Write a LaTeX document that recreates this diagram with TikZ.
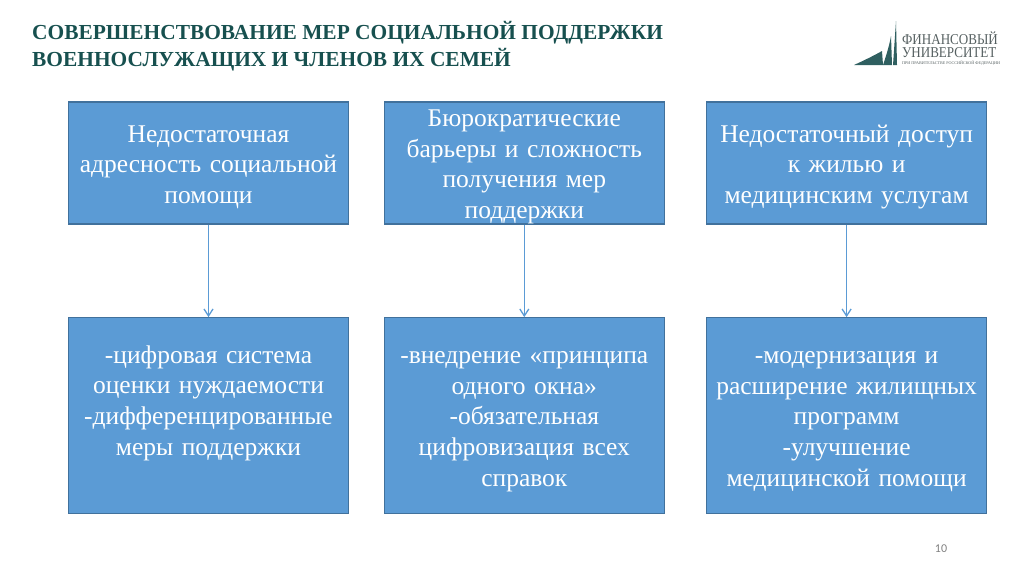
\documentclass[tikz,border=0pt]{standalone}
\usepackage{fontspec}
\setmainfont{Liberation Serif}
\newfontfamily\pagefont{Carlito}
\usetikzlibrary{arrows.meta, positioning}
\definecolor{boxFill}{HTML}{5B9BD5}
\definecolor{boxBorder}{HTML}{41719C}
\definecolor{titleText}{HTML}{17504F}
\definecolor{logoFill}{HTML}{2F5F60}
\definecolor{logoText}{HTML}{555F60}

\begin{document}
\begin{tikzpicture}[
  x=1pt, y=-1pt,
  node distance=92.5pt and 34.5pt,
  box/.style={rectangle, draw=boxBorder, line width=1.3pt, fill=boxFill, text=white, inner sep=0pt, minimum width=280pt, text width=276pt, align=center, font=\fontsize{25.5}{30.7}\selectfont, execute at end node={\endgraf\vspace*{-8pt}}},
  upper/.style={box, minimum height=122pt},
  lower/.style={box, minimum height=195.5pt, execute at end node={\vspace*{-4pt}}},
  arrow/.style={-{Straight Barb[length=7pt, width=9pt]}, draw=boxFill, line width=1.3pt},
  heading/.style={anchor=west, inner sep=0pt, text=titleText, font=\fontsize{21.4}{27}\selectfont\bfseries},
  logotext/.style={anchor=west, inner sep=0pt, text=logoText}
]
  \useasboundingbox (0,0) rectangle (1024,574);
  % Title
  \node (titleA) [heading] at (32,33) {СОВЕРШЕНСТВОВАНИЕ МЕР СОЦИАЛЬНОЙ ПОДДЕРЖКИ};
  \node (titleB) [heading] at (32,60) {ВОЕННОСЛУЖАЩИХ И ЧЛЕНОВ ИХ СЕМЕЙ};

  % Logo
  \fill [logoFill] (854,65) .. controls (865,60) and (875,55) .. (882,51) -- (883,65) -- cycle;
  \fill [logoFill] (883,65) .. controls (886,56) and (889,47) .. (891,36) -- (892,65) -- cycle;
  \fill [logoFill] (893,65) -- (896,21) -- (897,65) -- cycle;
  \node (logoA) [logotext, font=\fontsize{15}{16}\selectfont, xscale=0.87] at (902,38) {ФИНАНСОВЫЙ};
  \node (logoB) [logotext, font=\fontsize{15}{16}\selectfont, xscale=0.87] at (902,53) {УНИВЕРСИТЕТ};
  \node (logoC) [logotext, font=\fontsize{4.1}{5}\selectfont] at (902,63.5) {ПРИ ПРАВИТЕЛЬСТВЕ РОССИЙСКОЙ ФЕДЕРАЦИИ};

  % Nodes
  \node (targeting) [upper] at (208.5,163) {Недостаточная\\адресность социальной\\помощи};
  \node (barriers) [upper, right=of targeting] {Бюрократические\\барьеры и сложность\\получения мер\\поддержки};
  \node (access) [upper, right=of barriers, xshift=6.5pt] {Недостаточный доступ\\к жилью и\\медицинским услугам};

  \node (digital) [lower, below=of targeting] {-цифровая система\\оценки нуждаемости\\-дифференцированные\\меры поддержки\\\rule[-12pt]{0pt}{12pt}};
  \node (window) [lower, below=of barriers] {-внедрение «принципа\\одного окна»\\-обязательная\\цифровизация всех\\справок};
  \node (housing) [lower, below=of access] {-модернизация и\\расширение жилищных\\программ\\-улучшение\\медицинской помощи};

  \node (pagenum) [inner sep=0pt, text=gray, font=\pagefont\fontsize{12}{14}\selectfont] at (941,549) {10};

  % Connectors
  \draw [arrow] (targeting) -- (digital);
  \draw [arrow] (barriers) -- (window);
  \draw [arrow] (access) -- (housing);
\end{tikzpicture}
\end{document}
